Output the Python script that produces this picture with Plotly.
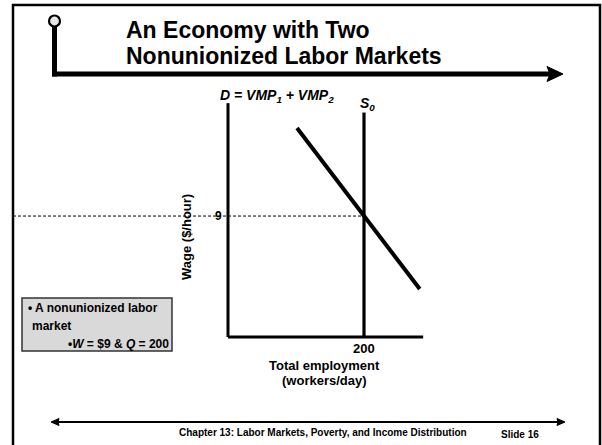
import plotly.graph_objects as go

# ---------------- data ----------------
wage_eq = 9
qty_eq = 200
demand_q = [101.5, 282]
demand_w = [15.55, 3.57]
supply_q = [200, 200]
supply_w = [0, 16.7]
axis_q_max = 287
axis_w_max = 17.4
wage_tick = "9"
qty_tick = "200"

# ---------------- page geometry helpers ----------------
W, H = 602, 445
X0PX, Y0PX = 228, 337      # pixel position of origin
SX, SY = 0.68, 13.44        # pixels per unit

def px(x):
    return x / W

def py(y):
    return 1 - y / H

def dx(xp):
    return (xp - X0PX) / SX

def dy(yp):
    return (Y0PX - yp) / SY

FONT = "Arial, Liberation Sans, Helvetica, sans-serif"

fig = go.Figure()

# axes lines
fig.add_trace(go.Scatter(x=[0, 0], y=[axis_w_max, 0], mode="lines",
                         line=dict(color="black", width=3), hoverinfo="skip"))
fig.add_trace(go.Scatter(x=[0, axis_q_max], y=[0, 0], mode="lines",
                         line=dict(color="black", width=3), hoverinfo="skip"))
# dotted wage line
fig.add_trace(go.Scatter(x=[dx(13), qty_eq], y=[wage_eq, wage_eq], mode="lines",
                         line=dict(color="black", width=1, dash="3px,2px"), hoverinfo="skip"))
# supply
fig.add_trace(go.Scatter(x=supply_q, y=supply_w, mode="lines",
                         line=dict(color="black", width=3.2), hoverinfo="skip"))
# demand
fig.add_trace(go.Scatter(x=demand_q, y=demand_w, mode="lines",
                         line=dict(color="black", width=4), hoverinfo="skip"))

annotations = []

def ann(text, x, y, size, xanchor="center", yanchor="middle", xref="x", yref="y", angle=0, align="center"):
    annotations.append(dict(text=text, x=x, y=y, xref=xref, yref=yref, showarrow=False,
                            xanchor=xanchor, yanchor=yanchor, textangle=angle, align=align,
                            font=dict(family=FONT, size=size, color="black")))

# chart labels
ann("<b><i>D = VMP<sub>1</sub> + VMP<sub>2</sub></i></b>", dx(277), dy(96), 14)
ann("<b><i>S<sub>0</sub></i></b>", dx(367), dy(104), 14)
ann("<b>" + wage_tick + "</b>", dx(218), wage_eq, 12)
ann("<b>" + qty_tick + "</b>", qty_eq, dy(348), 13)
ann("<b>Total employment</b>", dx(324), dy(365), 13)
ann("<b>(workers/day)</b>", dx(324), dy(380), 13)
ann("<b>Wage ($/hour)</b>", dx(186), dy(237), 13, angle=-90)

# title
ann("<b>An Economy with Two</b>", px(124), py(30), 23, xanchor="left", xref="paper", yref="paper")
ann("<b>Nonunionized Labor Markets</b>", px(124), py(56), 23, xanchor="left", xref="paper", yref="paper")

# footer
ann("<b>Chapter 13: Labor Markets, Poverty, and Income Distribution</b>", px(177), py(432), 10,
    xanchor="left", xref="paper", yref="paper")
ann("<b>Slide 16</b>", px(499), py(434), 10, xanchor="left", xref="paper", yref="paper")

# box text
ann("<b>• A nonunionized labor</b>", px(26), py(308), 12, xanchor="left", xref="paper", yref="paper")
ann("<b>market</b>", px(30), py(326), 12, xanchor="left", xref="paper", yref="paper")
ann("<b>•<i>W</i> = $9 &amp; <i>Q</i> = 200</b>", px(66), py(344), 12, xanchor="left", xref="paper", yref="paper")

shapes = []
# slide frame
shapes.append(dict(type="rect", xref="paper", yref="paper", x0=px(13), x1=px(600), y0=py(5), y1=py(450),
                   line=dict(color="black", width=2.5), fillcolor="rgba(0,0,0,0)", layer="below"))
# title bar
shapes.append(dict(type="line", xref="paper", yref="paper", x0=px(54.5), x1=px(54.5), y0=py(26), y1=py(76.5),
                   line=dict(color="black", width=5)))
shapes.append(dict(type="line", xref="paper", yref="paper", x0=px(52), x1=px(550), y0=py(74), y1=py(74),
                   line=dict(color="black", width=5)))
shapes.append(dict(type="path", xref="paper", yref="paper",
                   path=f"M {px(547)},{py(66.5)} L {px(563)},{py(74)} L {px(547)},{py(81.5)} L {px(550)},{py(74)} Z",
                   fillcolor="black", line=dict(color="black", width=1)))
shapes.append(dict(type="circle", xref="paper", yref="paper", x0=px(49), x1=px(60), y0=py(15.5), y1=py(26.5),
                   fillcolor="#e6e6e6", line=dict(color="black", width=2.2)))
# bottom arrow
shapes.append(dict(type="line", xref="paper", yref="paper", x0=px(54), x1=px(562), y0=py(422), y1=py(422),
                   line=dict(color="black", width=2.2)))
shapes.append(dict(type="path", xref="paper", yref="paper",
                   path=f"M {px(51)},{py(422)} L {px(59)},{py(418.5)} L {px(58)},{py(422)} L {px(59)},{py(425.5)} Z",
                   fillcolor="black", line=dict(color="black", width=1)))
shapes.append(dict(type="path", xref="paper", yref="paper",
                   path=f"M {px(565)},{py(422)} L {px(557)},{py(418.5)} L {px(558)},{py(422)} L {px(557)},{py(425.5)} Z",
                   fillcolor="black", line=dict(color="black", width=1)))
# gray box
shapes.append(dict(type="rect", xref="paper", yref="paper", x0=px(22), x1=px(172), y0=py(298), y1=py(351),
                   fillcolor="#d9d9d9", line=dict(color="#333333", width=1.5), layer="below"))

fig.update_layout(
    width=W, height=H, autosize=False,
    margin=dict(l=0, r=0, t=0, b=0, pad=0),
    paper_bgcolor="white", plot_bgcolor="rgba(0,0,0,0)",
    showlegend=False,
    xaxis=dict(visible=False, range=[dx(0), dx(W)], domain=[0, 1], fixedrange=True),
    yaxis=dict(visible=False, range=[dy(H), dy(0)], domain=[0, 1], fixedrange=True),
    annotations=annotations,
    shapes=shapes,
)

fig.write_html("out.html", config={"displayModeBar": False, "staticPlot": True})
